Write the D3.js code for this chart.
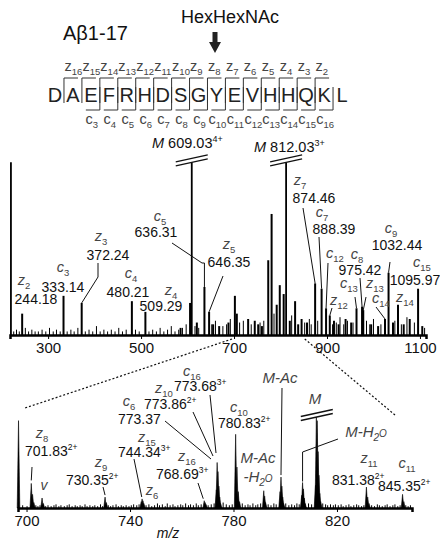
<!DOCTYPE html>
<html><head><meta charset="utf-8">
<script src="https://cdn.jsdelivr.net/npm/d3@7"></script>
<style>body{margin:0;background:#fff} text{font-family:"Liberation Sans",Arial,sans-serif}</style>
</head><body><svg id="c" width="440" height="541"></svg>
<script>
// ---------------- DATA ----------------
const residues = ["D","A","E","F","R","H","D","S","G","Y","E","V","H","H","Q","K","L"];
const zIons = [16,15,14,13,12,11,10,9,8,7,6,5,4,3,2];
const cIons = [3,4,5,6,7,8,9,10,11,12,13,14,15,16];

const topTicks = [300,500,700,900,1100];
const lowTicks = [700,740,780,820];

// top spectrum: [m/z, relative intensity]
const topPeaks = [
 [220,97],[244.18,12],[333.14,22],[372.24,18],[480.21,19],[509.29,13],[585,4],[605.4,18],[609.03,97],
 [620,7],[636.31,27],[646.35,13],[655,6],[668,5],[688,7],[701.83,22],[706.0,12],[730.35,9],[744.6,8],
 [752,6],[760,5],[773.6,42],[780.83,68],[791.8,17],[798.4,28],[806.8,23],[812.03,97],[820,8],
 [831.38,19],[838,6],[845.35,9],[857,7],[874.46,29],[888.39,26],[898.0,15],[906.0,11],[915,8],
 [925,6],[940,9],[952,7],[963.5,15],[975.42,16],[978.0,14],[995,6],[1010,5],[1024.8,9],[1032.44,35],
 [1042,7],[1052.8,17],[1065,6],[1078,9],[1095.97,26],[1105,5]
];
const topNoise = [
 [226,2],[232,3],[238,2],[251,4],[258,2],[265,3],[272,2],[279,2],[287,3],[295,2],[303,4],[311,2],
 [318,3],[326,2],[341,2],[349,3],[356,2],[364,4],[380,2],[388,3],[396,2],[404,5],[412,2],[420,3],
 [428,2],[436,3],[444,2],[452,4],[460,2],[468,3],[488,3],[496,2],[517,2],[525,3],[533,2],[541,4],
 [549,2],[557,3],[565,5],[573,2],[581,3],[589,4],[597,6],[616,5],[624,4],[652,6],[660,8],[676,5],
 [684,6],[692,9],[712,7],[720,8],[737,6],[756,7],[764,8],[786,12],[824,11],[852,7],[862,9],[866,6],
 [880,8],[912,6],[920,7],[928,10],[936,6],[944,8],[956,7],[985,8],[992,6],[1000,9],[1016,6],
 [1046,8],[1060,6],[1072,10],[1088,7],[1110,4]
];

// zoomed spectrum (isotope resolved): [m/z, relative intensity]
const lowPeaks = [
 [696.9,96],
 [701.83,27],[702.33,15],[702.83,6],
 [706.0,11],[706.5,5],
 [730.35,12],[730.85,6],
 [744.34,7],[744.67,10],[745.0,8],[745.34,5],
 [768.69,8],[769.02,6],[769.35,4],
 [773.37,20],[773.68,50],[774.0,40],[774.35,24],[774.68,12],[775.0,5],
 [780.83,81],[781.33,45],[781.83,18],[782.33,7],
 [791.7,19],[792.05,13],[792.4,6],
 [798.0,18],[798.36,34],[798.7,24],[799.03,12],[799.36,5],
 [806.36,14],[806.7,28],[807.03,21],[807.36,11],[807.7,5],
 [811.7,25],[812.03,100],[812.36,96],[812.7,62],[813.03,36],[813.36,16],[813.7,7],
 [831.38,23],[831.88,12],[832.38,5],
 [845.35,15],[845.85,7]
];
const lowNoise = [
 [698.5,3],[700.2,2],[703.6,3],[704.4,2],[705.2,3],[707.4,2],[708.3,3],[709.5,2],[710.6,3],[711.4,4],
 [712.5,2],[713.3,3],[714.6,2],[715.7,3],[716.5,4],[717.6,2],[718.8,3],[719.6,2],[720.7,3],[721.5,2],
 [722.6,4],[723.4,2],[724.5,3],[725.6,2],[726.4,3],[727.5,2],[728.6,4],[729.4,2],[731.6,3],[732.5,2],
 [733.4,3],[734.6,4],[735.5,2],[736.6,3],[737.4,2],[738.5,3],[739.6,2],[740.5,3],[741.4,4],[742.6,3],
 [743.5,4],[746.2,3],[747.3,4],[748.4,2],[749.5,3],[750.6,5],[751.4,3],[752.5,4],[753.6,2],[754.4,5],
 [755.5,3],[756.6,4],[757.4,2],[758.5,3],[759.6,4],[760.4,3],[761.5,5],[762.6,3],[763.4,4],[764.5,3],
 [765.6,5],[766.4,3],[767.5,4],[770.2,3],[771.4,4],[772.5,5],[776.0,6],[777.2,4],[778.4,3],[779.5,4],
 [783.4,5],[784.5,3],[785.6,4],[786.4,3],[787.5,5],[788.6,3],[789.4,4],[790.5,5],[793.4,4],[794.5,3],
 [795.6,5],[796.5,4],[800.2,5],[801.4,3],[802.5,4],[803.6,3],[804.5,5],[805.4,4],[809.0,5],[810.2,4],
 [814.5,5],[815.6,4],[816.4,3],[817.5,4],[818.6,3],[819.4,4],[820.5,3],[821.6,4],[822.4,2],[823.5,3],
 [824.6,4],[825.4,2],[826.5,3],[827.6,4],[828.4,3],[829.5,2],[830.4,3],[833.4,3],[834.5,2],[835.6,4],
 [836.4,3],[837.5,2],[838.6,3],[839.4,4],[840.5,2],[841.6,3],[842.4,4],[843.5,2],[844.4,3],[846.6,3],
 [847.5,2],[848.4,3]
];

// ---------------- LAYOUT ----------------
const svg = d3.select("#c");
const FONT = '"Liberation Sans",Arial,sans-serif';
const x1 = d3.scaleLinear().domain([218,1113]).range([10,426]);
const y1 = d3.scaleLinear().domain([0,100]).range([335,157]);
const x2 = d3.scaleLinear().domain([696.7,849]).range([18,412]);
const y2 = d3.scaleLinear().domain([0,100]).range([508,417]);
const xs = d3.scalePoint().domain(d3.range(residues.length)).range([55,342]);
const VFS = 14;

function ion(g, cx, cy, letter, sub, italic, anchor){
  const t = g.append("text").attr("x",cx).attr("y",cy+5).attr("text-anchor",anchor||"middle").attr("fill","#444");
  t.append("tspan").text(letter).attr("font-size",14.5).attr("font-style",italic?"italic":"normal");
  t.append("tspan").text(sub).attr("font-size",9.5).attr("dy",4);
  return t;
}
function val(g, x, cy, num, charge, anchor){
  const t = g.append("text").attr("x",x).attr("y",cy+5).attr("text-anchor",anchor||"middle").attr("font-size",VFS).attr("fill","#111");
  t.append("tspan").text(num);
  if(charge) t.append("tspan").text(charge).attr("font-size",8.5).attr("dy",-6);
  return t;
}
function leader(g, pts){
  g.append("path").attr("d",d3.line()(pts)).attr("fill","none").attr("stroke","#111").attr("stroke-width",1);
}
function slash(g, cx, cy){
  [-2,2].forEach(o=>g.append("line").attr("x1",cx-16).attr("y1",cy+o+3.5).attr("x2",cx+16).attr("y2",cy+o-3.5)
    .attr("stroke","#111").attr("stroke-width",1.3));
}

// ---------------- HEADER ----------------
const h = svg.append("g");
h.append("text").attr("x",63).attr("y",40).attr("font-size",20).attr("fill","#111").text("Aβ1-17");
h.append("text").attr("x",230).attr("y",23).attr("text-anchor","middle").attr("font-size",18).attr("fill","#111").text("HexHexNAc");
h.append("path").attr("d","M212.5,32 H217.5 V42 H221 L215,53 L209,42 H212.5 Z").attr("fill","#222");

residues.forEach((r,i)=>h.append("text").attr("x",xs(i)).attr("y",102).attr("text-anchor","middle")
  .attr("font-size",20).attr("fill","#222").text(r));
const bnd = i => (xs(i-1)+xs(i))/2; // boundary after residue i (1-based)
zIons.forEach(k=>{
  const b = bnd(17-k);
  h.append("path").attr("d",`M${b},103 V78 H${b+14}`).attr("fill","none").attr("stroke","#333").attr("stroke-width",1);
  ion(h, b+0.5, 66, "z", String(k), false, "start");
});
cIons.forEach(k=>{
  const b = bnd(k);
  h.append("path").attr("d",`M${b},87 V110 H${b-14}`).attr("fill","none").attr("stroke","#333").attr("stroke-width",1);
  ion(h, xs(k-1)+1, 119, "c", String(k), false, "middle");
});

// ---------------- TOP SPECTRUM ----------------
const g1 = svg.append("g");
g1.selectAll("line.n").data(topNoise).join("line").attr("x1",d=>x1(d[0])).attr("x2",d=>x1(d[0]))
  .attr("y1",y1(0)).attr("y2",d=>y1(d[1])).attr("stroke","#000").attr("stroke-width",1);
g1.selectAll("line.p").data(topPeaks).join("line").attr("x1",d=>x1(d[0])).attr("x2",d=>x1(d[0]))
  .attr("y1",y1(0)).attr("y2",d=>y1(d[1])).attr("stroke","#000").attr("stroke-width",d=>d[1]>90?1.8:2);
const ax1 = g1.append("g").attr("transform",`translate(0,${y1(0)})`)
  .call(d3.axisBottom(x1).tickValues(topTicks).tickFormat(d3.format("d")).tickSize(4).tickPadding(3));
ax1.select(".domain").attr("stroke-width",2.5);
ax1.selectAll("text").attr("font-size",15).attr("font-family",FONT).attr("fill","#111");

const pk1 = mz => [x1(mz), y1(topPeaks.find(d=>d[0]===mz)[1])];
// annotations top
slash(g1, x1(609.03), y1(97)-2);
slash(g1, x1(812.03), y1(97)-2);
let t = g1.append("text").attr("x",152).attr("y",148).attr("font-size",14.5).attr("fill","#111");
t.append("tspan").text("M").attr("font-style","italic"); t.append("tspan").text(" 609.03");
t.append("tspan").text("4+").attr("font-size",9).attr("dy",-6);
t = g1.append("text").attr("x",254).attr("y",152).attr("font-size",14.5).attr("fill","#111");
t.append("tspan").text("M").attr("font-style","italic"); t.append("tspan").text(" 812.03");
t.append("tspan").text("3+").attr("font-size",9).attr("dy",-6);

ion(g1,24,280,"z","2",true); val(g1,36,299,"244.18");
ion(g1,63,267,"c","3",true); val(g1,63,287,"333.14");
ion(g1,101,236,"z","3",true); val(g1,108,255,"372.24");
leader(g1,[[98,263],[98,277],pk1(372.24)]);
ion(g1,131,273,"c","4",true); val(g1,128,292,"480.21");
ion(g1,171,290,"z","4",true); val(g1,161,306,"509.29");
ion(g1,160,216,"c","5",true); val(g1,156,232,"636.31");
leader(g1,[[172,243],[202,263],[pk1(636.31)[0],263],pk1(636.31)]);
ion(g1,229,244,"z","5",true); val(g1,229,262,"646.35");
leader(g1,[[223,276],pk1(646.35)]);
ion(g1,300,180,"z","7",true); val(g1,314,198,"874.46");
leader(g1,[[303,208],pk1(874.46)]);
ion(g1,322,212,"c","7",true); val(g1,334,229,"888.39");
leader(g1,[[319,237],pk1(888.39)]);
ion(g1,335,253,"c","12",true);
leader(g1,[[328,263],pk1(898.0)]);
ion(g1,357,254,"c","8",true); val(g1,360,270,"975.42");
leader(g1,[[360,278],pk1(975.42)]);
ion(g1,391,228,"c","9",true); val(g1,397,245,"1032.44");
leader(g1,[[390,262],pk1(1032.44)]);
ion(g1,422,262,"c","15",true); val(g1,415,280,"1095.97");
ion(g1,349,283,"c","13",true);
leader(g1,[[355,297],pk1(963.5)]);
ion(g1,375,283,"z","13",true);
leader(g1,[[366,297],pk1(978.0)]);
ion(g1,381,298,"c","14",true);
leader(g1,[[376,307],pk1(1024.8)]);
ion(g1,405,297,"z","14",true);
ion(g1,339,300,"z","12",true);
leader(g1,[[332,308],pk1(906.0)]);

// zoom guides
svg.append("line").attr("x1",x1(700)-2).attr("y1",339).attr("x2",25).attr("y2",408)
  .attr("stroke","#111").attr("stroke-width",1.2).attr("stroke-dasharray","2,2");
svg.append("line").attr("x1",x1(850)+1).attr("y1",339).attr("x2",395).attr("y2",415)
  .attr("stroke","#111").attr("stroke-width",1.2).attr("stroke-dasharray","2,2");

// ---------------- LOWER SPECTRUM ----------------
const g2 = svg.append("g");
g2.selectAll("line.n").data(lowNoise).join("line").attr("x1",d=>x2(d[0])).attr("x2",d=>x2(d[0]))
  .attr("y1",y2(0)).attr("y2",d=>y2(d[1])).attr("stroke","#000").attr("stroke-width",1);
const hw = 1.3;
g2.selectAll("path.p").data(lowPeaks).join("path")
  .attr("d",d=>d3.line()([[x2(d[0])-hw,y2(0)],[x2(d[0]),y2(d[1])],[x2(d[0])+hw,y2(0)]])+"Z")
  .attr("fill","#000").attr("stroke","#000").attr("stroke-width",0.6);
const ax2 = g2.append("g").attr("transform",`translate(0,${y2(0)})`)
  .call(d3.axisBottom(x2).tickValues(lowTicks).tickSize(4).tickPadding(3));
ax2.select(".domain").attr("stroke-width",2.5);
ax2.selectAll("text").attr("font-size",15).attr("font-family",FONT).attr("fill","#111");
g2.append("text").attr("x",168).attr("y",538).attr("text-anchor","middle").attr("font-size",14)
  .attr("font-style","italic").attr("fill","#111").text("m/z");

const pk2 = mz => [x2(mz), y2(lowPeaks.find(d=>d[0]===mz)[1])];
ion(g2,42,433,"z","8",true); val(g2,25,451,"701.83","2+","start");
leader(g2,[[32,467],[pk2(701.83)[0],pk2(701.83)[1]-3]]);
g2.append("text").attr("x",44).attr("y",490).attr("text-anchor","middle").attr("font-size",14)
  .attr("font-style","italic").attr("fill","#444").text("v");
ion(g2,101,462,"z","9",true); val(g2,66,480,"730.35","2+","start");
leader(g2,[[103,487],[pk2(730.35)[0],pk2(730.35)[1]-2]]);
ion(g2,147,437,"z","15",true); val(g2,118,452,"744.34","3+","start");
leader(g2,[[134,459],[pk2(744.34)[0]+0.5,497]]);
ion(g2,152,490,"z","6",true);
ion(g2,187,456,"z","16",true); val(g2,156,474,"768.69","3+","start");
leader(g2,[[198,483],[pk2(768.69)[0]-1,pk2(768.69)[1]-2]]);
ion(g2,192,371,"c","16",true); val(g2,174,386,"773.68","3+","start");
leader(g2,[[210,395],[216,453]]);
ion(g2,164,388,"z","10",true); val(g2,144,404,"773.86","2+","start");
leader(g2,[[193,412],[213,456]]);
ion(g2,129,401,"c","6",true); val(g2,118,419,"773.37","","start");
leader(g2,[[165,421],[211,459]]);
ion(g2,239,407,"c","10",true); val(g2,218,423,"780.83","2+","start");

function itxt(g,x,cy,parts){
  const tt = g.append("text").attr("x",x).attr("y",cy+5).attr("text-anchor","middle").attr("font-size",15)
    .attr("font-style","italic").attr("fill","#444");
  parts.forEach(p=>{const s=tt.append("tspan").text(p[0]); if(p[1]) s.attr("font-size",10).attr("dy",p[1]);});
}
itxt(g2,258,458,[["M-Ac"]]);
itxt(g2,258,477,[["-H"],["2",4],["O",-4]]);
itxt(g2,280,378,[["M-Ac"]]);
leader(g2,[[282,388],[pk2(798.36)[0],pk2(798.36)[1]-2]]);
itxt(g2,315,399,[["M"]]);
slash(g2, x2(812.2), y2(100)-2);
itxt(g2,366,432,[["M-H"],["2",4],["O",-4]]);
leader(g2,[[338,439],[pk2(806.7)[0],452],[pk2(806.7)[0],pk2(806.7)[1]-1]]);
ion(g2,369,458,"z","11",true); val(g2,332,480,"831.38","2+","start");
ion(g2,407,463,"c","11",true); val(g2,378,486,"845.35","2+","start");
</script></body></html>
